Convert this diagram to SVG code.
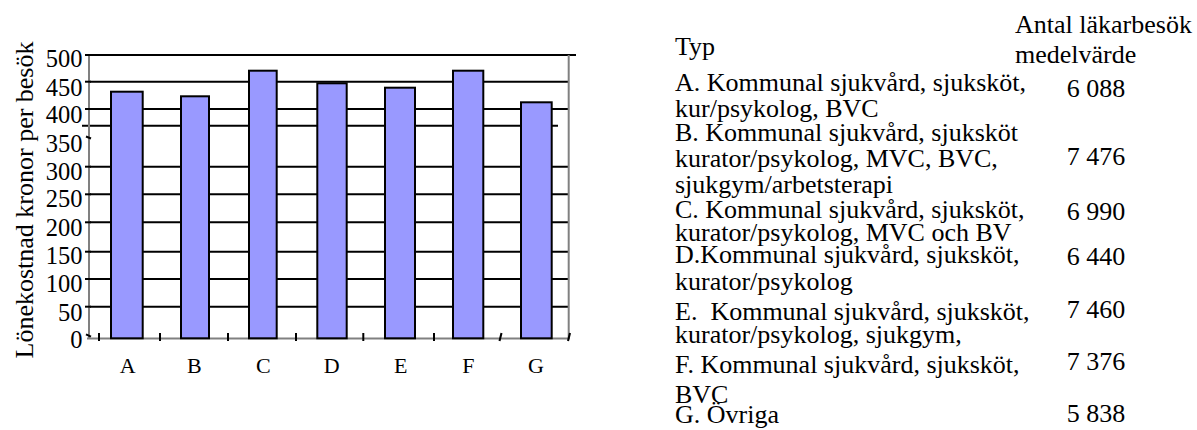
<svg xmlns="http://www.w3.org/2000/svg" width="1197" height="430" viewBox="0 0 1197 430" font-family="'Liberation Serif', 'Times New Roman', serif">
<style>
text{font-family:"Liberation Serif","Times New Roman",serif;fill:#000}
.tk{font-size:24.5px;text-anchor:end}
.xl{font-size:22px;text-anchor:middle}
.tb{font-size:26px}
.grid{stroke:#000;stroke-width:2;fill:none}
.ax{stroke:#808080;stroke-width:2;fill:none}
.tick{stroke:#000;stroke-width:2;fill:none}
.bar{fill:#9999FF;stroke:#000;stroke-width:2}
</style>
<rect width="1197" height="430" fill="#fff"/>
<g id="chart">
<g id="gridlines">
<line class="grid" x1="89" y1="55" x2="576" y2="55"/>
<line class="grid" x1="89" y1="81.7" x2="568" y2="81.7"/>
<line class="grid" x1="89" y1="109" x2="568" y2="109"/>
<line class="grid" x1="82" y1="125.7" x2="558" y2="125.7"/>
<line class="grid" x1="89" y1="166.7" x2="568" y2="166.7"/>
<line class="grid" x1="89" y1="194.3" x2="568" y2="194.3"/>
<line class="grid" x1="89" y1="222.3" x2="568" y2="222.3"/>
<line class="grid" x1="89" y1="251.7" x2="568" y2="251.7"/>
<line class="grid" x1="89" y1="279" x2="568" y2="279"/>
<line class="grid" x1="89" y1="306.7" x2="568" y2="306.7"/>
</g>
<g id="axes">
<line class="ax" x1="89" y1="55" x2="89" y2="339"/>
<line class="ax" x1="568.7" y1="55" x2="568.7" y2="339"/>
<line class="ax" x1="87" y1="338.5" x2="569.5" y2="338.5"/>
<g id="yticks">
<line class="tick" x1="85" y1="55" x2="91" y2="55"/>
<line class="tick" x1="85" y1="81.7" x2="91" y2="81.7"/>
<line class="tick" x1="85" y1="109" x2="91" y2="109"/>
<line class="tick" x1="86" y1="136.5" x2="91" y2="138.5"/>
<line class="tick" x1="85" y1="166.7" x2="91" y2="166.7"/>
<line class="tick" x1="85" y1="194.3" x2="91" y2="194.3"/>
<line class="tick" x1="85" y1="222.3" x2="91" y2="222.3"/>
<line class="tick" x1="85" y1="251.7" x2="91" y2="251.7"/>
<line class="tick" x1="85" y1="279" x2="91" y2="279"/>
<line class="tick" x1="85" y1="306.7" x2="91" y2="306.7"/>
<line class="tick" x1="86" y1="334.3" x2="91" y2="336.7"/>
</g>
<g id="xticks">
<line class="tick" x1="99" y1="333" x2="99" y2="341"/>
<line class="tick" x1="160" y1="333" x2="160" y2="341"/>
<line class="tick" x1="228" y1="333" x2="228" y2="341"/>
<line class="tick" x1="296" y1="333" x2="296" y2="341"/>
<line class="tick" x1="363.3" y1="333" x2="363.3" y2="341"/>
<line class="tick" x1="434" y1="333" x2="434" y2="341"/>
<line class="tick" x1="501.5" y1="333" x2="499.5" y2="341"/>
<line class="tick" x1="570" y1="333" x2="568" y2="341"/>
</g>
</g>
<g id="bars">
<rect class="bar" x="111" y="91.7" width="31.7" height="246.6"/>
<rect class="bar" x="181" y="96.3" width="28" height="242"/>
<rect class="bar" x="249" y="70.7" width="27.7" height="267.6"/>
<rect class="bar" x="317.3" y="83.3" width="29.4" height="255"/>
<rect class="bar" x="385" y="87.7" width="30" height="250.6"/>
<rect class="bar" x="453" y="70.7" width="30.3" height="267.6"/>
<rect class="bar" x="521" y="102.3" width="30.7" height="236"/>
</g>
<g id="ylabels">
<text class="tk" x="82.5" y="67.3">500</text>
<text class="tk" x="82.5" y="95.7">450</text>
<text class="tk" x="82.5" y="123.3">400</text>
<text class="tk" x="82.5" y="151.7">350</text>
<text class="tk" x="82.5" y="180">300</text>
<text class="tk" x="82.5" y="206.7">250</text>
<text class="tk" x="82.5" y="235.7">200</text>
<text class="tk" x="82.5" y="264">150</text>
<text class="tk" x="82.5" y="292.3">100</text>
<text class="tk" x="82.5" y="320.7">50</text>
<text class="tk" x="82.5" y="348.3">0</text>
</g>
<g id="xlabels">
<text class="xl" x="127.7" y="373.3">A</text>
<text class="xl" x="194.3" y="373.3">B</text>
<text class="xl" x="263.3" y="373.3">C</text>
<text class="xl" x="331.7" y="373.3">D</text>
<text class="xl" x="400.7" y="373.3">E</text>
<text class="xl" x="468.3" y="373.3">F</text>
<text class="xl" x="536" y="373.3">G</text>
</g>
<text id="yaxis-title" transform="translate(33,200) rotate(-90)" style="font-size:26px;text-anchor:middle">Lönekostnad kronor per besök</text>
</g>
<g id="table">
<g id="header">
<text class="tb" x="675" y="55">Typ</text>
<text class="tb" x="1015" y="33.3">Antal läkarbesök</text>
<text class="tb" x="1015" y="63.3">medelvärde</text>
</g>
<g id="rowA">
<text class="tb" x="675" y="90.7">A. Kommunal sjukvård, sjuksköt,</text>
<text class="tb" x="675" y="116.7">kur/psykolog, BVC</text>
<text class="tb" x="1066.7" y="96.7">6 088</text>
</g>
<g id="rowB">
<text class="tb" x="675" y="140.7">B. Kommunal sjukvård, sjuksköt</text>
<text class="tb" x="675" y="166.7">kurator/psykolog, MVC, BVC,</text>
<text class="tb" x="675" y="192.7">sjukgym/arbetsterapi</text>
<text class="tb" x="1066.7" y="165">7 476</text>
</g>
<g id="rowC">
<text class="tb" x="675" y="218.3">C. Kommunal sjukvård, sjuksköt,</text>
<text class="tb" x="675" y="240.7">kurator/psykolog, MVC och BV</text>
<text class="tb" x="1066.7" y="220">6 990</text>
</g>
<g id="rowD">
<text class="tb" x="675" y="263.3">D.Kommunal sjukvård, sjuksköt,</text>
<text class="tb" x="675" y="290.3">kurator/psykolog</text>
<text class="tb" x="1066.7" y="265">6 440</text>
</g>
<g id="rowE">
<text class="tb" x="675" y="320">E.&#160; Kommunal sjukvård, sjuksköt,</text>
<text class="tb" x="675" y="343.3">kurator/psykolog, sjukgym,</text>
<text class="tb" x="1066.7" y="318.3">7 460</text>
</g>
<g id="rowF">
<text class="tb" x="675" y="373.3">F. Kommunal sjukvård, sjuksköt,</text>
<text class="tb" x="675" y="402.7">BVC</text>
<text class="tb" x="1066.7" y="370">7 376</text>
</g>
<g id="rowG">
<text class="tb" x="675" y="422.7">G. Övriga</text>
<text class="tb" x="1066.7" y="421.7">5 838</text>
</g>
</g>
</svg>
